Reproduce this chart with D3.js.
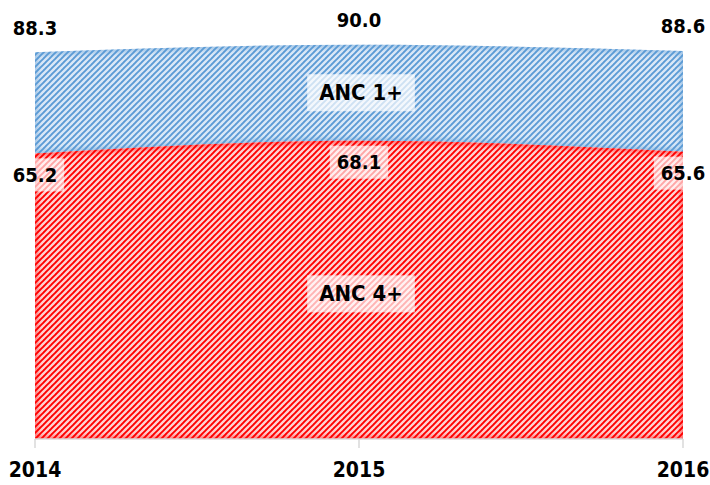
<!DOCTYPE html>
<html>
<head>
<meta charset="utf-8">
<script src="https://cdn.jsdelivr.net/npm/d3@7"></script>
<style>
  html, body { margin: 0; padding: 0; background: #ffffff; }
  svg { display: block; }
  text { font-family: "DejaVu Sans Condensed", "DejaVu Sans", sans-serif; font-stretch: condensed; font-weight: bold; fill: #000; }
</style>
</head>
<body>
<svg id="chart" width="710" height="485"></svg>
<script>
// Antenatal care coverage (%), by year
const years = ["2014", "2015", "2016"];
const anc1 = [88.3, 90.0, 88.6];
const anc4 = [65.2, 68.1, 65.6];
const seriesNames = ["ANC 1+", "ANC 4+"];

const W = 710, H = 485;
const svg = d3.select("#chart");

const x = d3.scalePoint().domain(years).range([35, 683]);
const y = d3.scaleLinear().domain([0, 100]).range([439, 1]);

const defs = svg.append("defs");

// diagonal hatch fills
function hatch(id, bg, fg) {
  const p = defs.append("pattern")
    .attr("id", id)
    .attr("patternUnits", "userSpaceOnUse")
    .attr("width", 6).attr("height", 6);
  p.append("rect").attr("width", 6).attr("height", 6).attr("fill", bg);
  p.append("path")
    .attr("d", "M-1,7 L7,-1 M-4,4 L4,-4 M2,10 L10,2")
    .attr("stroke", fg)
    .attr("stroke-width", 1.9)
    .attr("stroke-linecap", "square")
    .attr("stroke-dasharray", "1.4,1");
}
hatch("hatchBlue", "#dbe8f7", "#5b9bd5");
hatch("hatchRed", "#ffd2d2", "#ff0000");

defs.append("filter").attr("id", "soft")
  .attr("x", "-10%").attr("y", "-10%").attr("width", "120%").attr("height", "120%")
  .append("feGaussianBlur").attr("stdDeviation", 2.2);

const curve = d3.curveMonotoneX;

const rows = years.map((yr, i) => ({ yr, a1: anc1[i], a4: anc4[i] }));

const areaTop = d3.area().x(d => x(d.yr)).y0(d => y(d.a4)).y1(d => y(d.a1)).curve(curve);
const areaBot = d3.area().x(d => x(d.yr)).y0(y(0)).y1(d => y(d.a4)).curve(curve);

const bands = [
  { id: "b1", gen: areaTop, fill: "url(#hatchBlue)", edge: "#5b9bd5" },
  { id: "b4", gen: areaBot, fill: "url(#hatchRed)", edge: "#ff0000" }
];

bands.forEach(b => {
  const dPath = b.gen(rows);
  defs.append("clipPath").attr("id", "clip-" + b.id).append("path").attr("d", dPath);
  svg.append("path").attr("d", dPath).attr("fill", b.fill);
  // soft inner glow along the band's edges
  svg.append("g").attr("clip-path", `url(#clip-${b.id})`)
    .append("path").attr("d", dPath)
    .attr("fill", "none")
    .attr("stroke", b.edge)
    .attr("stroke-opacity", 0.45)
    .attr("stroke-width", 6)
    .attr("filter", "url(#soft)");
});

// category axis
svg.append("line")
  .attr("x1", x(years[0])).attr("x2", x(years[years.length - 1]))
  .attr("y1", y(0)).attr("y2", y(0))
  .attr("stroke", "#d9d9d9").attr("stroke-width", 1.5);
svg.selectAll(".tick").data(years).join("line")
  .attr("x1", d => x(d)).attr("x2", d => x(d))
  .attr("y1", y(0)).attr("y2", y(0) + 9)
  .attr("stroke", "#d9d9d9").attr("stroke-width", 1.5);
svg.selectAll(".yr").data(years).join("text")
  .attr("x", d => x(d)).attr("y", 470)
  .attr("text-anchor", "middle").attr("dominant-baseline", "central")
  .style("font-size", "21px")
  .text(d => d);

// ANC 1+ values above the band
svg.selectAll(".v1").data(rows).join("text")
  .attr("x", d => x(d.yr)).attr("y", d => y(d.a1) - 24.5)
  .attr("text-anchor", "middle").attr("dominant-baseline", "central")
  .style("font-size", "20px")
  .text(d => d.a1.toFixed(1));

// ANC 4+ values just inside the band, on translucent boxes
const v4 = svg.selectAll(".v4").data(rows).join("g")
  .attr("transform", d => `translate(${x(d.yr)},${y(d.a4) + 21.5})`);
v4.append("text")
  .attr("text-anchor", "middle").attr("dominant-baseline", "central")
  .style("font-size", "20px")
  .text(d => d.a4.toFixed(1));
v4.each(function() {
  const g = d3.select(this);
  const bb = g.select("text").node().getBBox();
  g.insert("rect", "text")
    .attr("x", bb.x - 7).attr("y", -16.5)
    .attr("width", bb.width + 14).attr("height", 33)
    .attr("fill", "#ffffff").attr("fill-opacity", 0.65);
});

// series name labels in the middle of each band
const mid = rows[1];
const nameLabels = [
  { name: seriesNames[0], cy: (y(mid.a1) + y(mid.a4)) / 2 },
  { name: seriesNames[1], cy: (y(mid.a4) + y(0)) / 2 + 4 }
];
const nl = svg.selectAll(".name").data(nameLabels).join("g")
  .attr("transform", d => `translate(${x(mid.yr) + 2},${d.cy})`);
nl.append("text")
  .attr("text-anchor", "middle").attr("dominant-baseline", "central")
  .style("font-size", "22px")
  .text(d => d.name);
nl.each(function() {
  const g = d3.select(this);
  const bb = g.select("text").node().getBBox();
  g.insert("rect", "text")
    .attr("x", bb.x - 12).attr("y", -18.5)
    .attr("width", bb.width + 24).attr("height", 37)
    .attr("fill", "#ffffff").attr("fill-opacity", 0.7);
});
</script>
</body>
</html>
